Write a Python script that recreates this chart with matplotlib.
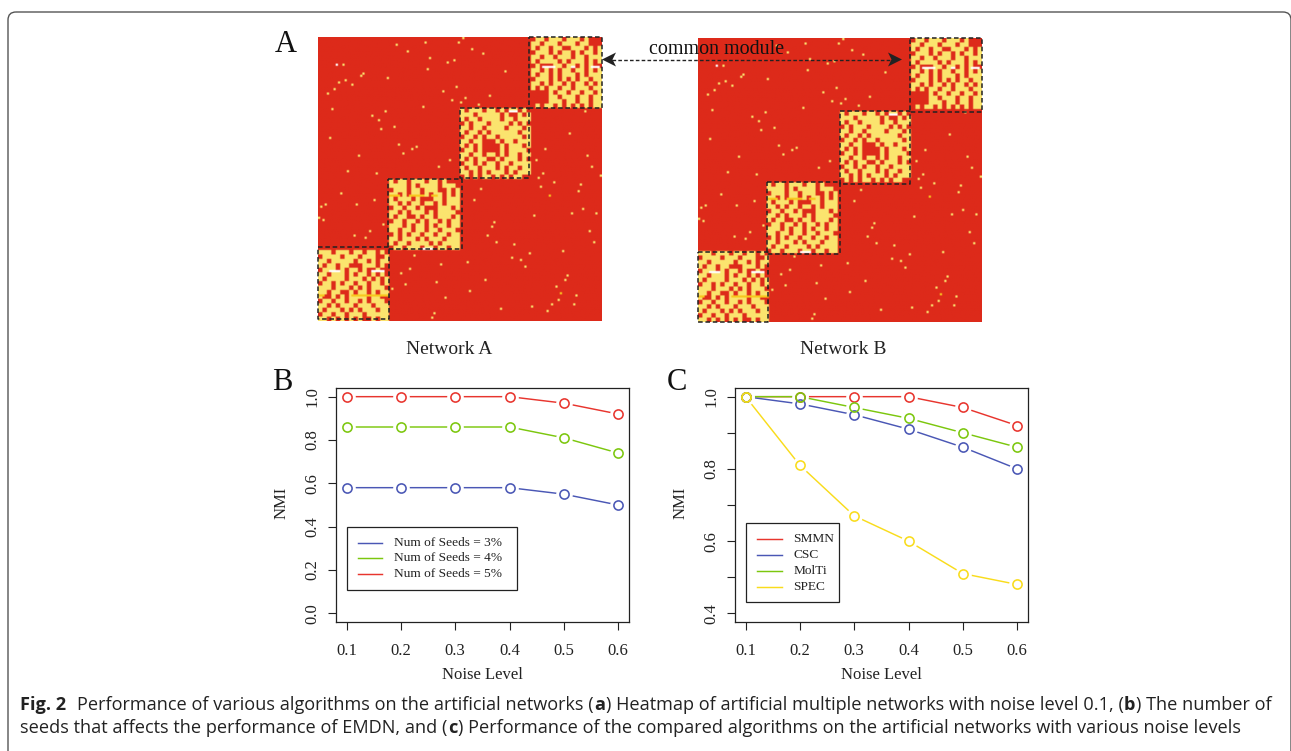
import numpy as np
import matplotlib
matplotlib.use('Agg')
import matplotlib.pyplot as plt
from matplotlib.colors import to_rgb
from matplotlib.patches import FancyBboxPatch, Polygon, Rectangle

W, H = 1291, 751
plt.rcParams['font.family'] = ['Liberation Serif', 'DejaVu Serif']

# heatmap modules at half resolution, . red, # pale yellow
block_1 = [
    "###.###.##.##.#.",
    ".####.###.###..#",
    "##.#####.##.#.##",
    "#.##.##...###.#.",
    ".###.#.##.#..#..",
    "##.###.#.##.#.#.",
    "#.####.###.#.#.#",
    ".##.#.##.##.##.#",
    "###.###.#.#.###.",
    "##.##..#.##.#.##",
    "#..#.#.####.##..",
    ".##.##.##.#.###.",
    "##.#.###.###.###",
    "#.###.#.#.###.##",
    ".##.##.###.#####",
    "##.#.#.#.#..#.##",
]
block_2 = [
    "#.##.###.##.#...",
    "####.#.####.###.",
    ".###.##.###..#.#",
    "##.#.##.#.##.#.#",
    "#.###.#...##.###",
    "##.#.##.##.#.###",
    ".##.##.#...###.#",
    "##.#.###.#.####.",
    "#.##..#.##.###.#",
    ".##.##.#.##.#.##",
    "###.#.##.#.##.##",
    "##.##.##.##.###.",
    ".#.#.##.##.##.##",
    "##.###.#.###.###",
    "#.##.####.#.####",
    ".##.###.##.##.##",
]
block_3 = [
    "#.###.##.#.##.#.",
    "###.#####.#..#.#",
    "#.##.####.##.###",
    ".#.###.####.#.#.",
    "##.##.####.###.#",
    "#.##.#.######.##",
    ".##.#.##.#####.#",
    "##.##...#.##.###",
    "#.#.#....#.###.#",
    ".##.#....#.####.",
    "##.##.##.#.##.##",
    "#.#.##..#.###.#.",
    ".##.#.##.##.####",
    "#.##.###.#.##.##",
    "##.#.#.###.#.###",
    ".#.#.##.#.#.##..",
]
block_4 = [
    ".##.###.###.#...",
    "##.###.###.##...",
    "#.##.##..###.#.#",
    ".###.#.##.#.##.#",
    "##.##.###.##.###",
    "#.####.#.###.#.#",
    ".#...##.##.#.#..",
    "##.#.#.##.##.#.#",
    "#.##.#.###.#.###",
    ".###.#.#.#.##.##",
    "##.#.##.#.##.#.#",
    "#.#.##.##.###.##",
    "....#.##.##.##.#",
    "....##.###.##.##",
    "....###.##.##.##",
    ".#.##.#.#.#.#.##",
]
block_cols_a = [0, 32, 64, 96]
block_rows_a = [96, 64, 32, 0]
block_cols_b = [0, 31, 64, 96]
block_rows_b = [96, 65, 33, 0]
n_cells = 128

# thin white and gold runs inside the modules: module, row, first col, last col
white_block = [0, 0, 1, 2, 3, 3, 3]
white_row = [9, 9, 31, 1, 13, 13, 13]
white_c0 = [5, 24, 15, 22, 5, 18, 27]
white_c1 = [9, 29, 19, 25, 10, 19, 30]
gold_block = [0, 0, 1, 1, 1]
gold_row = [20, 20, 7, 7, 7]
gold_c0 = [0, 15, 0, 9, 19]
gold_c1 = [2, 31, 4, 15, 21]

# stray pale cells outside the modules (col, row)
dot_cols = [35, 48, 40, 63, 65, 69, 74, 50, 58, 61, 11, 49, 84, 20, 19, 31, 12, 9, 15, 7, 4, 62, 56,
            77, 66, 60, 64, 72, 47, 6, 30, 24, 27, 34, 28, 5, 36, 44, 42, 38, 18, 59, 54, 13, 26,
            10, 17, 25, 1, 3, 0, 2, 29, 23, 16, 21, 120, 113, 102, 121, 98, 123, 101, 127, 99, 106,
            118, 100, 117, 119, 114, 97, 125, 79, 78, 122, 76, 80, 124, 88, 110, 95, 87, 91, 93,
            67, 55, 43, 41, 37, 75, 112, 111, 39, 53, 33, 107, 68, 57, 116, 108, 115, 105, 96, 82,
            103, 52, 51, 73, 70]
dot_rows = [3, 2, 6, 2, 0, 5, 7, 9, 11, 10, 12, 14, 15, 16, 17, 18, 19, 20, 21, 23, 25, 22, 24,
            26, 27, 28, 29, 30, 31, 32, 33, 35, 37, 40, 41, 45, 48, 49, 50, 52, 53, 55, 58, 60, 61,
            70, 75, 73, 76, 75, 81, 82, 84, 87, 89, 90, 33, 43, 50, 53, 55, 58, 61, 62, 63, 65,
            66, 67, 69, 77, 79, 80, 79, 83, 85, 87, 89, 92, 92, 93, 96, 97, 99, 100, 103,
            101, 102, 98, 104, 106, 109, 107, 109, 111, 110, 113, 112, 114, 117, 116, 118, 120, 120, 121, 122,
            123, 124, 126, 68, 73]
white_dots_col = [8]
white_dots_row = [12]
gold_dots_col = [104, 109]
gold_dots_row = [71, 115]

noise_level = [0.1, 0.2, 0.3, 0.4, 0.5, 0.6]
seeds_3 = [0.58, 0.58, 0.58, 0.58, 0.55, 0.50]
seeds_4 = [0.86, 0.86, 0.86, 0.86, 0.81, 0.74]
seeds_5 = [1.00, 1.00, 1.00, 1.00, 0.97, 0.92]
smmn = [1.00, 1.00, 1.00, 1.00, 0.97, 0.92]
csc = [1.00, 0.98, 0.95, 0.91, 0.86, 0.80]
molti = [1.00, 1.00, 0.97, 0.94, 0.90, 0.86]
spec = [1.00, 0.81, 0.67, 0.60, 0.51, 0.48]

RED = '#e8352e'
BLUE = '#4a57b5'
GREEN = '#7cc70e'
YELLOW = '#f9dc1c'
INK = '#222222'


def px_axes(fig, left, top, right, bottom, **kw):
    return fig.add_axes([left / W, 1 - bottom / H, (right - left) / W, (bottom - top) / H], **kw)


def build_matrix(cols, rows):
    m = np.zeros((n_cells, n_cells), dtype=int)
    m[dot_rows, dot_cols] = 1
    m[white_dots_row, white_dots_col] = 2
    m[gold_dots_row, gold_dots_col] = 3
    blocks = [block_1, block_2, block_3, block_4]
    for block, c0, r0 in zip(blocks, cols, rows):
        cells = np.array([[1 if ch == '#' else 0 for ch in line] for line in block])
        cells = cells.repeat(2, axis=0).repeat(2, axis=1)
        nr = min(cells.shape[0], n_cells - r0)
        nc = min(cells.shape[1], n_cells - c0)
        m[r0:r0 + nr, c0:c0 + nc] = cells[:nr, :nc]
    for k, r, a, b in zip(white_block, white_row, white_c0, white_c1):
        m[rows[k] + r, cols[k] + a:cols[k] + b + 1] = 2
    for k, r, a, b in zip(gold_block, gold_row, gold_c0, gold_c1):
        m[rows[k] + r, cols[k] + a:cols[k] + b + 1] = 3
    return m


def draw_heatmap(ax, matrix, boxes):
    palette = np.array([to_rgb(c) for c in ['#dd2a1a', '#fbe46e', '#ffffff', '#f8c81e']])
    ax.imshow(palette[matrix], aspect='auto', interpolation='hanning',
              extent=(0, n_cells, n_cells, 0))
    ax.axis('off')
    for x0, x1, y0, y1 in boxes:
        ax.plot([x0, x1, x1, x0, x0], [y0, y0, y1, y1, y0], color=INK, lw=1.1,
                ls=(0, (3, 1.8)), clip_on=False)
    ax.set_xlim(0, n_cells)
    ax.set_ylim(n_cells, 0)


def draw_curves(ax, series, colors, yticks, yminor, ylim):
    for y, c in zip(series, colors):
        ax.plot(noise_level, y, color=c, lw=1.05, zorder=2)
        ax.plot(noise_level, y, ls='none', marker='o', ms=12, mfc='white', mec='none', zorder=2)
        ax.plot(noise_level, y, ls='none', marker='o', ms=6.6, mfc='none', mec=c, mew=1.15, zorder=3)
    ax.set_xlim(0.08, 0.62)
    ax.set_ylim(*ylim)
    ax.set_xticks(noise_level)
    ax.set_xticklabels(['%.1f' % v for v in noise_level], fontsize=12)
    ax.set_yticks(yticks + yminor)
    ax.set_yticklabels(['%.1f' % v for v in yticks] + [''] * len(yminor), fontsize=12,
                       rotation=90, va='center')
    ax.tick_params(length=6, width=0.8, color=INK, labelcolor=INK)
    ax.tick_params(axis='x', pad=9)
    ax.tick_params(axis='y', pad=5)
    ax.set_xlabel('Noise Level', fontsize=12, color=INK, labelpad=6)
    ax.set_ylabel('NMI', fontsize=12, color=INK, labelpad=11)
    ax.yaxis.label.set_y(0.51)
    for s in ax.spines.values():
        s.set_linewidth(0.9)
        s.set_color(INK)


def draw_legend(box, line_ys, handle_xs, text_x, labels, colors):
    x0, y0, x1, y1 = box
    over.add_patch(Rectangle((x0, y0), x1 - x0, y1 - y0, fc='white', ec=INK, lw=0.9))
    for y, label, c in zip(line_ys, labels, colors):
        over.plot(handle_xs, [y, y], color=c, lw=1.05)
        over.text(text_x, y, label, fontsize=9.6, va='center', ha='left', color=INK)


fig = plt.figure(figsize=(W / 100, H / 100), dpi=100, facecolor='white')

# frame and overlay in picture pixels
over = fig.add_axes([0, 0, 1, 1], zorder=10)
over.set_xlim(0, W)
over.set_ylim(H, 0)
over.axis('off')
over.patch.set_alpha(0)
over.add_patch(FancyBboxPatch((8, 12), 1283, 900, boxstyle='round,pad=0,rounding_size=8', fc='none',
                              ec='#555555', lw=1.0))

ax_a = px_axes(fig, 318, 37, 602, 321)
boxes_a = [(0, 32.1, 94.7, 127.2), (31.7, 64.7, 64.1, 95.5), (64.1, 95.2, 31.8, 63.7), (95.2, 127.8, 0, 31.8)]
draw_heatmap(ax_a, build_matrix(block_cols_a, block_rows_a), boxes_a)

ax_b = px_axes(fig, 698, 38, 982, 322)
boxes_b = [(0, 31.5, 96.5, 127.8), (31, 63.8, 64.7, 97.2), (63.8, 95.6, 32.7, 65.9), (95.6, 127.8, 0, 33.5)]
draw_heatmap(ax_b, build_matrix(block_cols_b, block_rows_b), boxes_b)

ax_c = px_axes(fig, 335.7, 388, 629, 622)
draw_curves(ax_c, [seeds_3, seeds_4, seeds_5], [BLUE, GREEN, RED],
            [0.0, 0.2, 0.4, 0.6, 0.8, 1.0], [], (-0.04, 1.04))
draw_legend((346.7, 526.7, 517.3, 590), [542.7, 557.7, 574], [358.3, 382.3], 394,
            ['Num of Seeds = 3%', 'Num of Seeds = 4%', 'Num of Seeds = 5%'], [BLUE, GREEN, RED])

ax_d = px_axes(fig, 734.7, 388, 1028, 622)
draw_curves(ax_d, [smmn, csc, molti, spec], [RED, BLUE, GREEN, YELLOW],
            [0.4, 0.6, 0.8, 1.0], [0.5, 0.7, 0.9], (0.376, 1.024))
draw_legend((745.7, 523.3, 839.3, 602.3), [539.3, 555, 570.7, 586.7], [757.3, 781.7], 793.3,
            ['SMMN', 'CSC', 'MolTi', 'SPEC'], [RED, BLUE, GREEN, YELLOW])

# panel letters and names
for s, x, y in [('A', 286, 45), ('B', 282, 382), ('C', 677, 382)]:
    over.text(x, y, s, fontsize=22, ha='center', va='center', color='#111111')
over.text(449, 350, 'Network A', fontsize=14, ha='center', va='center', color=INK)
over.text(843, 350, 'Network B', fontsize=14, ha='center', va='center', color=INK)
over.text(716.5, 49, 'common module', fontsize=14.4, ha='center', va='center', color='#111111')

# double arrow
over.plot([612, 892], [59.5, 59.5], color=INK, lw=1.0, ls=(0, (2.6, 1.6)))
over.add_patch(Polygon([(602, 59.5), (616, 52.5), (612.5, 59.5), (616, 66.5)], fc=INK, ec='none'))
over.add_patch(Polygon([(902, 59.5), (888, 52.5), (891.5, 59.5), (888, 66.5)], fc=INK, ec='none'))

# caption, bold bits placed one after another
cap_font = ['Open Sans', 'DejaVu Sans']
cap_size = 13.1
line_1 = [('Fig. 2', True), (' ', False),
          ('Performance of various algorithms on the artificial networks (', False), ('a', True),
          (') Heatmap of artificial multiple networks with noise level 0.1, (', False), ('b', True),
          (') The number of', False)]
line_2 = [('seeds that affects the performance of EMDN, and (', False), ('c', True),
          (') Performance of the compared algorithms on the artificial networks with various noise levels', False)]
fig.canvas.draw()
renderer = fig.canvas.get_renderer()
for parts, y in [(line_1, 705), (line_2, 728)]:
    x = 20
    for s, bold in parts:
        if s == ' ':
            x += 10
            continue
        t = over.text(x, y, s, fontsize=cap_size, family=cap_font, va='center', ha='left',
                      fontweight='bold' if bold else 'normal', color=INK)
        x += t.get_window_extent(renderer).width + 0.6

fig.savefig('out.png', dpi=100)
